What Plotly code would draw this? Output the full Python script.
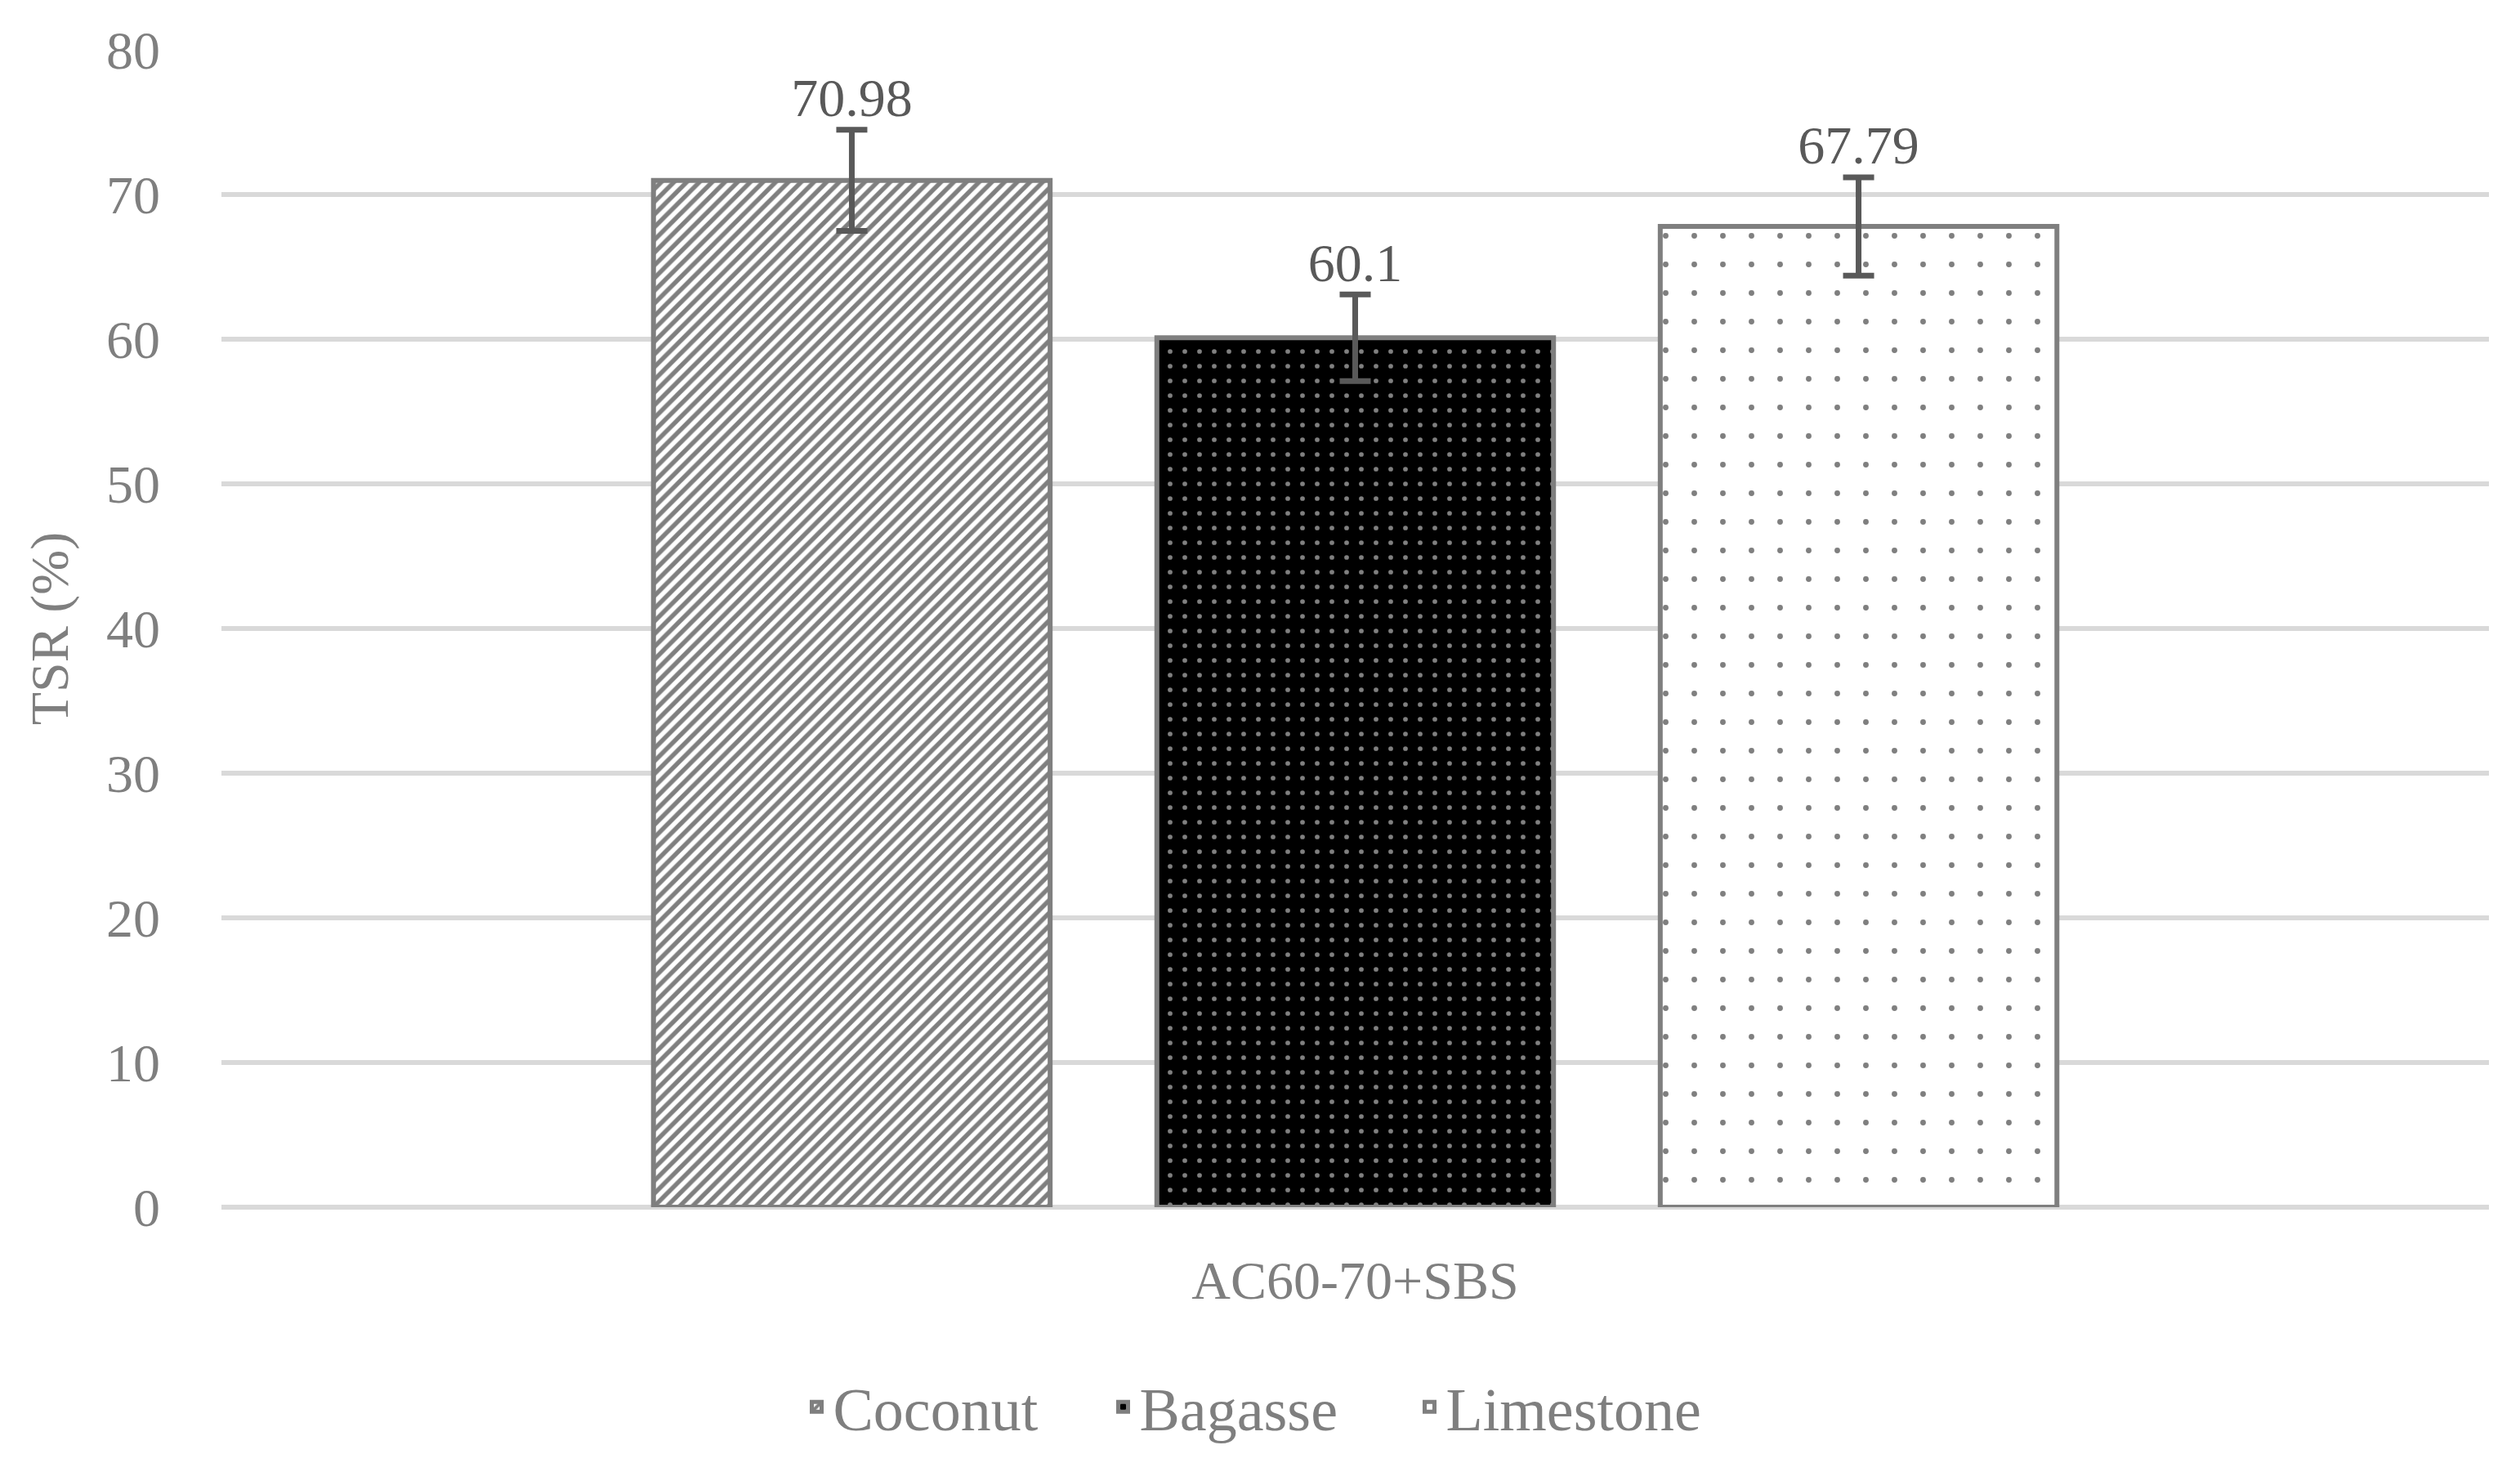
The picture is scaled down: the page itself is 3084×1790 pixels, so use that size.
import plotly.graph_objects as go

# TSR results, one binder, three fillers
category = ["AC60-70+SBS"]
fillers = ["Coconut", "Bagasse", "Limestone"]
tsr = [70.98, 60.1, 67.79]
tsr_err = [3.5, 3.0, 3.4]
y_ticks = [0, 10, 20, 30, 40, 50, 60, 70, 80]

# fill patterns that mimic the Excel hatches
patterns = {
    "Coconut": dict(shape="/", fgcolor="black", bgcolor="white", size=11, solidity=0.5),
    "Bagasse": dict(shape=".", fgcolor="white", bgcolor="black", size=18, solidity=0.08),
    "Limestone": dict(shape=".", fgcolor="black", bgcolor="white", size=35, solidity=0.03),
}

FONT = "Liberation Serif"
GREY = "#7f7f7f"
DARK = "#595959"
GAP = 0.334

fig = go.Figure()

for name, val, err in zip(fillers, tsr, tsr_err):
    fig.add_trace(go.Bar(
        x=category, y=[val], name=name,
        offsetgroup=name, alignmentgroup="a",
        marker=dict(color="white", line=dict(color=GREY, width=6),
                    pattern=patterns[name]),
        error_y=dict(type="data", array=[err], color=DARK, thickness=7, width=19),
    ))

# value labels sit above the error bar caps
for name, val, err in zip(fillers, tsr, tsr_err):
    fig.add_trace(go.Scatter(
        x=category, y=[val + err], mode="text", text=[f"{val:g}"],
        textposition="top center", offsetgroup=name, alignmentgroup="a",
        textfont=dict(family=FONT, size=66, color=DARK),
        showlegend=False, hoverinfo="skip",
    ))

# page body adds an 8px margin, so the figure is 16px smaller than the window
fig.update_layout(
    width=3068, height=1774,
    barmode="group", bargap=GAP, bargroupgap=0.212,
    scattermode="group", scattergap=GAP,
    plot_bgcolor="white", paper_bgcolor="white",
    margin=dict(l=263, r=30, t=53, b=305),
    font=dict(family=FONT, size=66, color=GREY),
    legend=dict(orientation="h", xref="container", yref="container",
                x=0.5, xanchor="center", y=0.034, yanchor="middle",
                entrywidth=330,
                font=dict(family=FONT, size=74, color=GREY)),
    showlegend=True,
)
fig.update_yaxes(
    range=[0, 80], tickvals=y_ticks, showline=False,
    gridcolor="#d9d9d9", gridwidth=6,
    zeroline=True, zerolinecolor="#d9d9d9", zerolinewidth=6,
    ticklabelstandoff=74, tickfont=dict(size=66, color=GREY),
    title=dict(text="TSR (%)", font=dict(size=66, color=GREY), standoff=24),
)
fig.update_xaxes(
    showgrid=False, showline=False, ticks="",
    ticklabelstandoff=45, tickfont=dict(size=66, color=GREY),
)

fig.write_html("out.html")
